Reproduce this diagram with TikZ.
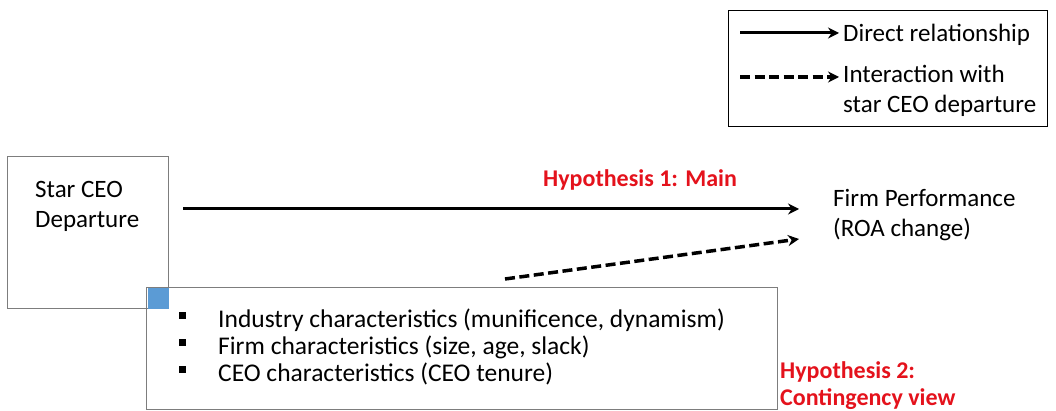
\documentclass[tikz,border=0pt]{standalone}
\usepackage{fontspec}
\setmainfont{Carlito}
\usetikzlibrary{positioning,arrows.meta}
\definecolor{hypred}{RGB}{228,18,28}
\definecolor{cornerblue}{RGB}{91,155,213}
\definecolor{boxgray}{RGB}{125,125,125}
\newcommand{\sqbullet}{\makebox[39pt][l]{\rule[8pt]{7pt}{7pt}}}

\begin{document}
\begin{tikzpicture}[x=1pt, y=-1pt, >={Stealth[length=11pt,width=11pt]},
    font=\fontsize{25}{30}\selectfont,
    box/.style={draw=boxgray, line width=1pt, rectangle, inner sep=0pt},
    txt/.style={anchor=base west, inner sep=0pt, align=left},
    hyp/.style={txt, text=hypred, font=\fontsize{24}{27}\selectfont\bfseries},
    link/.style={->, line width=3pt},
    dashlink/.style={link, line width=3.5pt, dash pattern=on 10pt off 4.5pt}]
    \useasboundingbox (0,0) rectangle (1056,411);

    % legend (multi-line nodes sit on their last baseline)
    \node[draw, line width=1.1pt, minimum width=319pt, minimum height=116pt, anchor=north west] (legend) at (728,10) {};
    \node[txt] (directtxt) at (843,42) {Direct relationship};
    \node[txt] (interacttxt) at (843,113) {Interaction with\\star CEO departure};
    \coordinate (directstart) at (740,33);
    \coordinate (interactstart) at (740,77);
    \draw[link] (directstart) -- ([xshift=-4pt]directstart -| directtxt.west);
    \draw[dashlink] (interactstart) -- ([xshift=-4pt]interactstart -| directtxt.west);

    % boxes
    \node[box, minimum width=161pt, minimum height=152pt, anchor=north west] (star) at (7,156) {};
    \node[txt] (startxt) at (35,228) {Star CEO\\Departure};
    \node[box, minimum width=631pt, minimum height=122pt, anchor=north west] (factors) at (146,287) {};
    \node[fill=cornerblue, minimum size=21pt, inner sep=0pt, anchor=south east] (corner) at (star.south east) {};
    \node[txt, font=\fontsize{25.5}{27}\selectfont] (items) at (179,381)
        {\sqbullet Industry characteristics (munificence, dynamism)\\
         \sqbullet Firm characteristics (size, age, slack)\\
         \sqbullet CEO characteristics (CEO tenure)};

    \node[txt] (perf) at (833,237) {Firm Performance\\(ROA change)};
    \node[hyp] (hypmain) at (543,187) {Hypothesis 1: Main};
    \node[hyp] (hypcont) at (780,405) {Hypothesis 2:\\Contingency view};

    % relationships
    \coordinate (mainstart) at (183,209);
    \coordinate (mainend) at (799,209);
    \coordinate (contstart) at (505,279);
    \coordinate (contend) at (799,239);
    \draw[link] (mainstart) -- (mainend);
    \draw[dashlink] (contstart) -- (contend);
\end{tikzpicture}
\end{document}
